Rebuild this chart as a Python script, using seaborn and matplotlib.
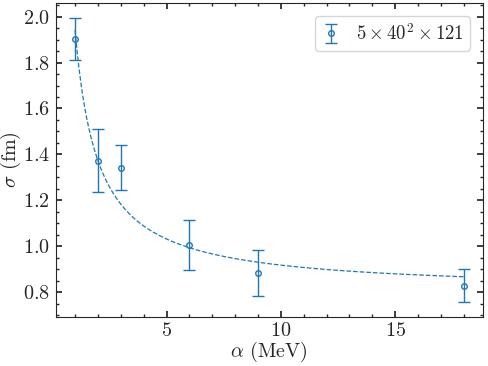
import numpy as np
import pandas as pd
import seaborn as sns
import matplotlib.pyplot as plt

# data
alpha = [1, 2, 3, 6, 9, 18]
sigma = [1.903, 1.372, 1.343, 1.007, 0.882, 0.828]
sigma_err = [0.093, 0.137, 0.100, 0.108, 0.100, 0.072]
label = r"$5\times40^2\times121$"

sns.set_theme(style="ticks")
plt.rcParams.update({
    "font.family": "serif",
    "font.serif": ["cmr10"],
    "mathtext.fontset": "cm",
    "axes.formatter.use_mathtext": True,
    "axes.unicode_minus": False,
    "font.size": 14,
    "xtick.direction": "in",
    "ytick.direction": "in",
    "xtick.top": True,
    "ytick.right": True,
    "xtick.minor.visible": True,
    "ytick.minor.visible": True,
    "xtick.major.size": 4,
    "ytick.major.size": 4,
    "xtick.minor.size": 2,
    "ytick.minor.size": 2,
    "axes.linewidth": 0.8,
})

color = "#1f77b4"

# fit sigma = a + b/alpha, weighted by the errors
x = np.array(alpha, dtype=float)
y = np.array(sigma)
w = 1 / np.array(sigma_err)
A = np.vstack([np.ones_like(x), 1 / x]).T
coef, *_ = np.linalg.lstsq(A * w[:, None], y * w, rcond=None)
xf = np.linspace(x.min(), x.max(), 200)
fit = pd.DataFrame({"alpha": xf, "sigma": coef[0] + coef[1] / xf})

fig, ax = plt.subplots(figsize=(4.88, 3.66), dpi=100)
sns.lineplot(data=fit, x="alpha", y="sigma", ax=ax, color=color,
             linestyle="--", linewidth=0.9)
ax.errorbar(alpha, sigma, yerr=sigma_err, fmt="o", color=color, mfc="none",
            ms=4, mew=1, capsize=4, elinewidth=1, label=label)

ax.set_xlabel(r"$\alpha$ (MeV)", fontsize=14.5, labelpad=0)
ax.set_ylabel(r"$\sigma$ (fm)", fontsize=14.5)
ax.yaxis.set_label_coords(-0.077, 0.5)
ax.set_xticks([5, 10, 15])
ax.set_yticks([0.8, 1.0, 1.2, 1.4, 1.6, 1.8, 2.0])
ax.tick_params(labelsize=14.5, pad=4)
ax.legend(loc="upper right", fontsize=13.5, handlelength=1.0,
          borderaxespad=0.7, borderpad=0.35)

fig.subplots_adjust(left=0.114, right=0.990, top=0.991, bottom=0.135)
fig.savefig("out.png", dpi=100)
